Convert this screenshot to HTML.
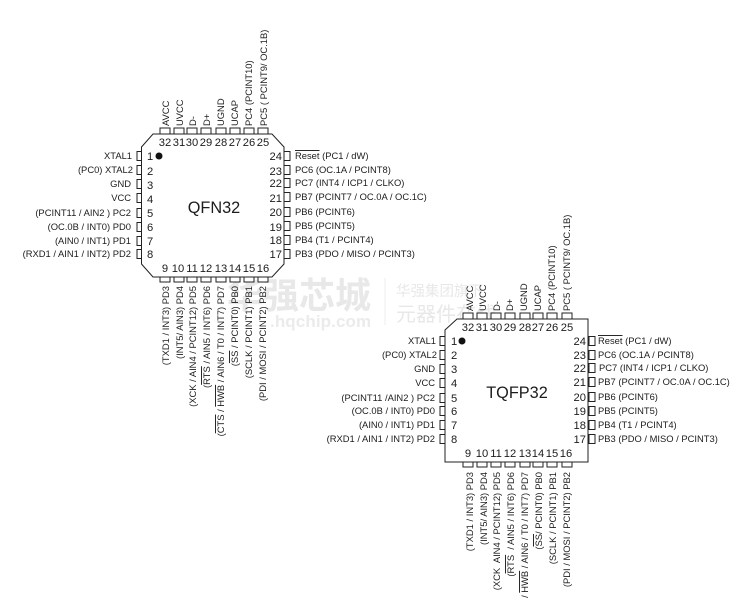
<!DOCTYPE html>
<html><head><meta charset="utf-8"><style>
html,body{margin:0;padding:0;background:#fff}
svg{display:block;filter:blur(.25px)}
text{font-family:"Liberation Sans",Arial,sans-serif;fill:#1c1c1c}
.l{font-size:9.4px}
.n{font-size:11.2px}
.t{font-size:16.3px}
.e{text-anchor:end}
.m{text-anchor:middle}
.o{text-decoration:overline}
.p rect{fill:#fff;stroke:#222;stroke-width:1}
</style></head><body>
<svg width="750" height="605" viewBox="0 0 750 605" xmlns="http://www.w3.org/2000/svg">
<g style="font-family:'Noto Sans CJK SC',sans-serif">
<text x="227" y="308" style="font-family:'Liberation Sans','Noto Sans CJK SC',sans-serif;font-size:36px;font-weight:700;fill:#e8e8e8">华强芯城</text>
<text x="270" y="327" style="font-family:'Liberation Sans',sans-serif;font-size:17px;font-weight:700;fill:#ebebeb;letter-spacing:.1px">.hqchip.com</text>
<rect x="384.500" y="278" width="1" height="47" fill="#ececec"/>
<text x="396" y="296" style="font-family:'Liberation Sans','Noto Sans CJK SC',sans-serif;font-size:14.500px;fill:#e8e8e8">华强集团旗下</text>
<text x="396" y="321" style="font-family:'Liberation Sans','Noto Sans CJK SC',sans-serif;font-size:20px;fill:#e8e8e8">元器件在线</text>
</g>

<!-- QFN32 -->
<polygon points="153,134 272,134 284,147 284,264 272,277 153,277 141.500,264 141.500,147" fill="#fff" stroke="#222" stroke-width="1"/>
<g class="p">
<rect x="160" y="128" width="10" height="6"/><rect x="174" y="128" width="10" height="6"/><rect x="187" y="128" width="10" height="6"/><rect x="201" y="128" width="10" height="6"/><rect x="216" y="128" width="10" height="6"/><rect x="230" y="128" width="10" height="6"/><rect x="244" y="128" width="10" height="6"/><rect x="258" y="128" width="10" height="6"/>
<rect x="160" y="277" width="10" height="5"/><rect x="174" y="277" width="10" height="5"/><rect x="187" y="277" width="10" height="5"/><rect x="201" y="277" width="10" height="5"/><rect x="216" y="277" width="10" height="5"/><rect x="230" y="277" width="10" height="5"/><rect x="244" y="277" width="10" height="5"/><rect x="258" y="277" width="10" height="5"/>
<rect x="137" y="151.500" width="4.500" height="9"/><rect x="137" y="165.500" width="4.500" height="9"/><rect x="137" y="179.500" width="4.500" height="9"/><rect x="137" y="193.500" width="4.500" height="9"/><rect x="137" y="208.500" width="4.500" height="9"/><rect x="137" y="222.500" width="4.500" height="9"/><rect x="137" y="236.500" width="4.500" height="9"/><rect x="137" y="249.500" width="4.500" height="9"/>
<rect x="284" y="151.500" width="6" height="9"/><rect x="284" y="165.500" width="6" height="9"/><rect x="284" y="178.500" width="6" height="9"/><rect x="284" y="192.500" width="6" height="9"/><rect x="284" y="207.500" width="6" height="9"/><rect x="284" y="221.500" width="6" height="9"/><rect x="284" y="235.500" width="6" height="9"/><rect x="284" y="249.500" width="6" height="9"/>
</g>
<circle cx="159" cy="156" r="3.500" fill="#111"/>
<text class="t m" x="214" y="213">QFN32</text>
<g class="n m">
<text x="165" y="146">32</text><text x="179" y="146">31</text><text x="192" y="146">30</text><text x="206" y="146">29</text><text x="221" y="146">28</text><text x="235" y="146">27</text><text x="249" y="146">26</text><text x="263" y="146">25</text>
<text x="165" y="272">9</text><text x="178" y="272">10</text><text x="192" y="272">11</text><text x="206" y="272">12</text><text x="221" y="272">13</text><text x="235" y="272">14</text><text x="249" y="272">15</text><text x="263" y="272">16</text>
</g>
<g class="n">
<text x="147" y="160">1</text><text x="147" y="175">2</text><text x="147" y="189">3</text><text x="147" y="203">4</text><text x="147" y="217">5</text><text x="147" y="231">6</text><text x="147" y="245">7</text><text x="147" y="258">8</text>
</g>
<g class="n e">
<text x="282" y="160">24</text><text x="282" y="175">23</text><text x="282" y="187">22</text><text x="282" y="202">21</text><text x="282" y="216">20</text><text x="282" y="231">19</text><text x="282" y="244">18</text><text x="282" y="258">17</text>
</g>
<g class="l e">
<text x="132" y="159">XTAL1</text><text x="133" y="173">(PC0) XTAL2</text><text x="131" y="187">GND</text><text x="131" y="201">VCC</text><text x="131" y="216">(PCINT11 / AIN2 ) PC2</text><text x="131" y="230">(OC.0B / INT0) PD0</text><text x="131" y="244">(AIN0 / INT1) PD1</text><text x="131" y="257">(RXD1 / AIN1 / INT2) PD2</text>
</g>
<g class="l">
<text x="295" y="159"><tspan class="o">Reset</tspan> (PC1 / dW)</text><text x="295" y="173">PC6 (OC.1A / PCINT8)</text><text x="295" y="186">PC7 (INT4 / ICP1 / CLKO)</text><text x="295" y="200">PB7 (PCINT7 / OC.0A / OC.1C)</text><text x="295" y="215">PB6 (PCINT6)</text><text x="295" y="229">PB5 (PCINT5)</text><text x="295" y="243">PB4 (T1 / PCINT4)</text><text x="295" y="257">PB3 (PDO / MISO / PCINT3)</text>
<text transform="translate(169,126) rotate(-90)">AVCC</text><text transform="translate(183,126) rotate(-90)">UVCC</text><text transform="translate(196,126) rotate(-90)">D-</text><text transform="translate(210,126) rotate(-90)">D+</text><text transform="translate(224,126) rotate(-90)">UGND</text><text transform="translate(238,126) rotate(-90)">UCAP</text><text transform="translate(252,126) rotate(-90)">PC4 (PCINT10)</text><text transform="translate(267,126) rotate(-90)">PC5 ( PCINT9/ OC.1B)</text>
</g>
<g class="l e">
<text transform="translate(169,286) rotate(-90)">(TXD1 / INT3) PD3</text><text transform="translate(183,286) rotate(-90)">(INT5/ AIN3) PD4</text><text transform="translate(196,286) rotate(-90)">(XCK / AIN4 / PCINT12) PD5</text><text transform="translate(210,286) rotate(-90)">(<tspan class="o">RTS</tspan> / AIN5 / INT6) PD6</text><text transform="translate(224,286) rotate(-90)">(<tspan class="o">CTS</tspan> / <tspan class="o">HWB</tspan> / AIN6 / T0 / INT7) PD7</text><text transform="translate(238,286) rotate(-90)">(<tspan class="o">SS</tspan> / PCINT0) PB0</text><text transform="translate(252,286) rotate(-90)">(SCLK / PCINT1) PB1</text><text transform="translate(266,286) rotate(-90)">(PDI / MOSI / PCINT2) PB2</text>
</g>

<!-- TQFP32 -->
<polygon points="457,319 588,319 588,462 445,462 445,330" fill="#fff" stroke="#222" stroke-width="1"/>
<g class="p">
<rect x="463" y="313" width="10" height="6"/><rect x="477" y="313" width="10" height="6"/><rect x="491" y="313" width="10" height="6"/><rect x="505" y="313" width="10" height="6"/><rect x="520" y="313" width="10" height="6"/><rect x="533" y="313" width="10" height="6"/><rect x="547" y="313" width="10" height="6"/><rect x="562" y="313" width="10" height="6"/>
<rect x="463" y="462" width="10" height="5"/><rect x="477" y="462" width="10" height="5"/><rect x="491" y="462" width="10" height="5"/><rect x="505" y="462" width="10" height="5"/><rect x="520" y="462" width="10" height="5"/><rect x="533" y="462" width="10" height="5"/><rect x="547" y="462" width="10" height="5"/><rect x="562" y="462" width="10" height="5"/>
<rect x="440" y="336.500" width="5" height="9"/><rect x="440" y="350.500" width="5" height="9"/><rect x="440" y="364.500" width="5" height="9"/><rect x="440" y="378.500" width="5" height="9"/><rect x="440" y="393.500" width="5" height="9"/><rect x="440" y="406.500" width="5" height="9"/><rect x="440" y="420.500" width="5" height="9"/><rect x="440" y="434.500" width="5" height="9"/>
<rect x="589" y="336.500" width="6" height="9"/><rect x="589" y="350.500" width="6" height="9"/><rect x="589" y="363.500" width="6" height="9"/><rect x="589" y="377.500" width="6" height="9"/><rect x="589" y="392.500" width="6" height="9"/><rect x="589" y="406.500" width="6" height="9"/><rect x="589" y="420.500" width="6" height="9"/><rect x="589" y="434.500" width="6" height="9"/>
</g>
<circle cx="462" cy="341" r="3.500" fill="#111"/>
<text class="t m" x="517" y="398">TQFP32</text>
<g class="n m">
<text x="468" y="331">32</text><text x="482" y="331">31</text><text x="496" y="331">30</text><text x="510" y="331">29</text><text x="525" y="331">28</text><text x="538" y="331">27</text><text x="552" y="331">26</text><text x="567" y="331">25</text>
<text x="468" y="457">9</text><text x="482" y="457">10</text><text x="496" y="457">11</text><text x="510" y="457">12</text><text x="525" y="457">13</text><text x="538" y="457">14</text><text x="552" y="457">15</text><text x="566" y="457">16</text>
</g>
<g class="n">
<text x="451" y="345">1</text><text x="451" y="359">2</text><text x="451" y="373">3</text><text x="451" y="387">4</text><text x="451" y="402">5</text><text x="451" y="415">6</text><text x="451" y="429">7</text><text x="451" y="443">8</text>
</g>
<g class="n e">
<text x="586" y="345">24</text><text x="586" y="359">23</text><text x="586" y="372">22</text><text x="586" y="386">21</text><text x="586" y="401">20</text><text x="586" y="415">19</text><text x="586" y="429">18</text><text x="586" y="443">17</text>
</g>
<g class="l e">
<text x="436" y="344">XTAL1</text><text x="437" y="358">(PC0) XTAL2</text><text x="435" y="372">GND</text><text x="435" y="386">VCC</text><text x="435" y="401">(PCINT11 /AIN2 ) PC2</text><text x="435" y="414">(OC.0B / INT0) PD0</text><text x="435" y="428">(AIN0 / INT1) PD1</text><text x="435" y="442">(RXD1 / AIN1 / INT2) PD2</text>
</g>
<g class="l">
<text x="598" y="344"><tspan class="o">Reset</tspan> (PC1 / dW)</text><text x="598" y="358">PC6 (OC.1A / PCINT8)</text><text x="599" y="371">PC7 (INT4 / ICP1 / CLKO)</text><text x="598" y="385">PB7 (PCINT7 / OC.0A / OC.1C)</text><text x="598" y="400">PB6 (PCINT6)</text><text x="598" y="414">PB5 (PCINT5)</text><text x="598" y="428">PB4 (T1 / PCINT4)</text><text x="598" y="442">PB3 (PDO / MISO / PCINT3)</text>
<text transform="translate(473,311) rotate(-90)">AVCC</text><text transform="translate(486,311) rotate(-90)">UVCC</text><text transform="translate(500,311) rotate(-90)">D-</text><text transform="translate(513,311) rotate(-90)">D+</text><text transform="translate(527,311) rotate(-90)">UGND</text><text transform="translate(541,311) rotate(-90)">UCAP</text><text transform="translate(555,311) rotate(-90)">PC4 (PCINT10)</text><text transform="translate(570,311) rotate(-90)">PC5 ( PCINT9/ OC.1B)</text>
</g>
<g class="l e">
<text transform="translate(473,472) rotate(-90)">(TXD1 / INT3) PD3</text><text transform="translate(487,472) rotate(-90)">(INT5/ AIN3) PD4</text><text transform="translate(500,472) rotate(-90)" xml:space="preserve">(XCK  AIN4 / PCINT12) PD5</text><text transform="translate(514,472) rotate(-90)" xml:space="preserve">(<tspan class="o">RTS</tspan>  / AIN5 / INT6) PD6</text><text transform="translate(528,472) rotate(-90)">/ <tspan class="o">HWB</tspan> / AIN6 / T0 / INT7) PD7</text><text transform="translate(542,472) rotate(-90)">(<tspan class="o">SS</tspan>/ PCINT0) PB0</text><text transform="translate(556,472) rotate(-90)">(SCLK / PCINT1) PB1</text><text transform="translate(570,472) rotate(-90)">(PDI / MOSI / PCINT2) PB2</text>
</g>
</svg>
</body></html>
